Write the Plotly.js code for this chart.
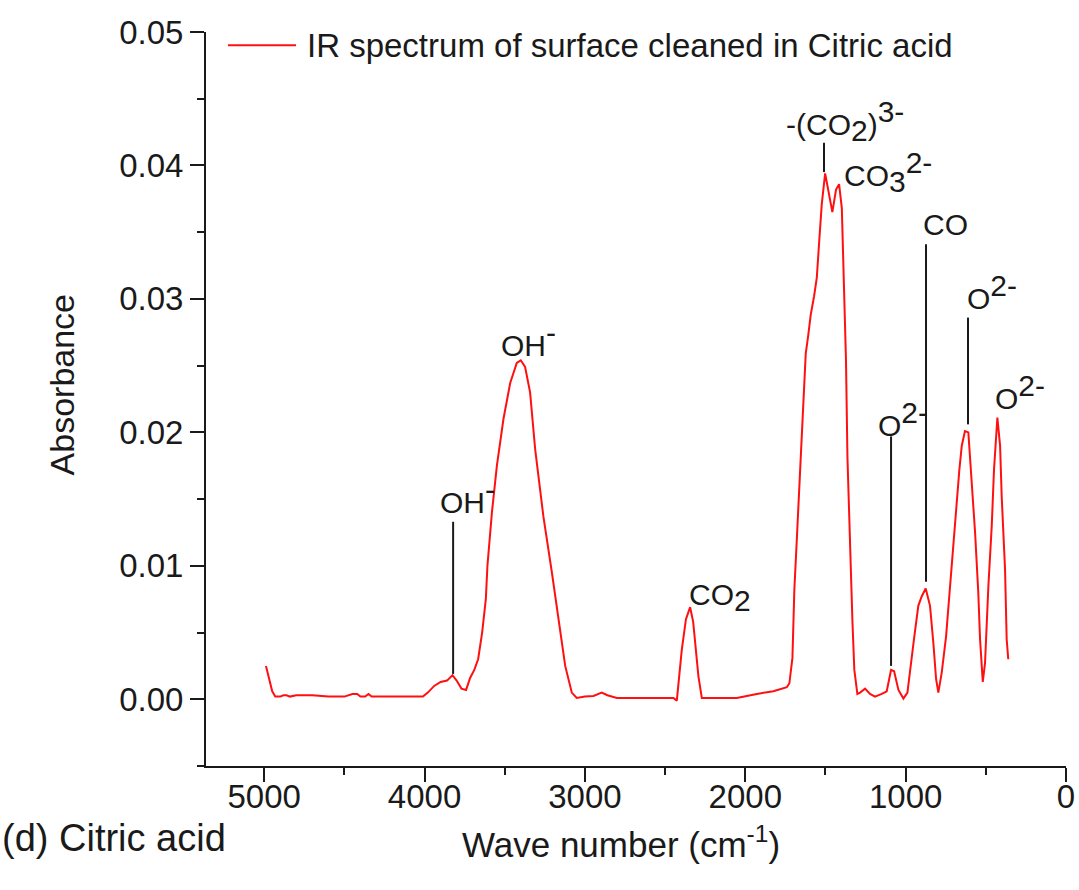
<!DOCTYPE html>
<html>
<head>
<meta charset="utf-8">
<script src="https://cdn.plot.ly/plotly-3.0.1.min.js"></script>
<style>html,body{margin:0;padding:0;background:#fff;}#chart{width:1079px;height:890px;}</style>
</head>
<body>
<div id="chart"></div>
<script>
// Wave numbers (cm^-1) and absorbance
const waveNumber = [4989,4970,4950,4931,4900,4880,4860,4840,4800,4700,4600,4500,4450,4420,4400,4370,4350,4330,4200,4100,4010,3980,3940,3900,3860,3826,3800,3770,3741,3716,3690,3666,3641,3618,3608,3580,3549,3508,3466,3425,3400,3373,3342,3310,3259,3206,3165,3123,3082,3051,3000,2947,2895,2860,2801,2600,2448,2427,2396,2370,2344,2325,2313,2292,2271,2150,2053,1928,1825,1741,1725,1706,1694,1679,1664,1648,1638,1623,1607,1592,1571,1554,1538,1523,1502,1482,1457,1434,1415,1398,1388,1372,1363,1347,1332,1320,1301,1284,1253,1222,1191,1149,1118,1091,1072,1045,1014,989,968,946,921,900,875,848,827,810,796,775,748,723,703,681,665,650,630,609,588,567,547,536,519,505,484,463,449,428,411,401,380,370,360];
const absorbance = [0.0025,0.0015,0.0006,0.0002,0.0002,0.0003,0.0003,0.0002,0.0003,0.0003,0.0002,0.0002,0.0004,0.0004,0.0002,0.0002,0.0004,0.0002,0.0002,0.0002,0.0002,0.0005,0.0010,0.0013,0.0014,0.0018,0.0014,0.0008,0.0007,0.0016,0.0022,0.0030,0.0050,0.0075,0.0100,0.0140,0.0175,0.0210,0.0237,0.0252,0.0254,0.0249,0.0230,0.0187,0.0137,0.0095,0.0062,0.0025,0.0005,0.0001,0.0002,0.00025,0.0005,0.0003,0.0001,0.0001,0.0001,-0.0001,0.0037,0.0060,0.0069,0.0058,0.0042,0.0017,0.0001,0.0001,0.0001,0.0004,0.0006,0.0009,0.0012,0.0031,0.0082,0.0119,0.0158,0.0193,0.0230,0.0259,0.0273,0.0288,0.0302,0.0316,0.0345,0.0371,0.0394,0.0382,0.0365,0.0382,0.0386,0.0368,0.0322,0.0254,0.0182,0.0114,0.0059,0.0022,0.0004,0.0005,0.0008,0.0004,0.0002,0.0004,0.0006,0.0022,0.0021,0.0007,0.00005,0.0005,0.0027,0.0047,0.0070,0.0077,0.0083,0.0070,0.0042,0.0015,0.0005,0.0020,0.0047,0.0085,0.0115,0.0152,0.0172,0.0190,0.0201,0.0200,0.0165,0.0125,0.0080,0.0045,0.0013,0.0027,0.0085,0.0130,0.0172,0.0211,0.0190,0.0152,0.0097,0.0045,0.0030];
const seriesName = "IR spectrum of surface cleaned in Citric acid";
const xTitle = "Wave number (cm<sup>-1</sup>)";
const yTitle = "Absorbance";
const panelLabel = "(d) Citric acid";

// Peak labels (sub/superscripts kept at full size as in the reference)
const S = "<span style='font-size:30px'>";
const E = "</span>";
const peakLabels = [
  "OH<sup>" + S + "-" + E + "</sup>",
  "OH<sup>" + S + "-" + E + "</sup>",
  "CO<sub>" + S + "2" + E + "</sub>",
  "-(CO<sub>" + S + "2" + E + "</sub>)<sup>" + S + "3-" + E + "</sup>",
  "CO<sub>" + S + "3" + E + "</sub><sup>" + S + "2-" + E + "</sup>",
  "CO",
  "O<sup>" + S + "2-" + E + "</sup>",
  "O<sup>" + S + "2-" + E + "</sup>",
  "O<sup>" + S + "2-" + E + "</sup>"
];
const peakLabelX = [3734,3354,2157,1378,1110,754,1016,461,287];
const peakLabelY = [0.0152,0.0270,0.0076,0.0433,0.0395,0.0356,0.0210,0.0305,0.0230];
// Pointer lines from label to peak
const pointerX = [3822,1509,873,1091,611];
const pointerLow = [0.0019,0.0395,0.0088,0.0025,0.0206];
const pointerHigh = [0.0133,0.0417,0.0341,0.0197,0.0286];

const FONT = "Arial, 'Liberation Sans', sans-serif";
const INK = "#1a1a1a";
const RED = "#ff1010";

const trace = {
  x: waveNumber, y: absorbance, type: "scatter", mode: "lines",
  name: seriesName, line: {color: RED, width: 2}, showlegend: false
};

const annotations = peakLabels.map((t, i) => ({
  x: peakLabelX[i], y: peakLabelY[i], xref: "x", yref: "y", text: t,
  showarrow: false, xanchor: "center", yanchor: "middle",
  font: {family: FONT, size: 30, color: INK}
}));
annotations.push({
  x: 0.115, y: 0.982, xref: "paper", yref: "paper", text: seriesName,
  showarrow: false, xanchor: "left", yanchor: "middle",
  font: {family: FONT, size: 33, color: INK}
});
annotations.push({
  x: -0.239, y: -0.098, xref: "paper", yref: "paper", text: panelLabel,
  showarrow: false, xanchor: "left", yanchor: "middle",
  font: {family: FONT, size: 38, color: INK}
});
annotations.push({
  x: 0.4826, y: -0.104, xref: "paper", yref: "paper", text: xTitle,
  showarrow: false, xanchor: "center", yanchor: "middle",
  font: {family: FONT, size: 35, color: INK}
});
annotations.push({
  x: -0.167, y: 0.519, xref: "paper", yref: "paper", text: yTitle, textangle: -90,
  showarrow: false, xanchor: "center", yanchor: "middle",
  font: {family: FONT, size: 34, color: INK}
});

const shapes = pointerX.map((px, i) => ({
  type: "line", xref: "x", yref: "y", x0: px, x1: px, y0: pointerLow[i], y1: pointerHigh[i],
  line: {color: INK, width: 2}
}));
shapes.push({
  type: "line", xref: "paper", yref: "paper", x0: 0.0256, x1: 0.1047, y0: 0.982, y1: 0.982,
  line: {color: RED, width: 2}
});

const layout = {
  width: 1079, height: 890,
  margin: {l: 206, r: 13, t: 32, b: 124},
  paper_bgcolor: "#fff", plot_bgcolor: "#fff",
  font: {family: FONT, color: INK},
  showlegend: false,
  xaxis: {
    range: [5363, 0], showgrid: false, zeroline: false,
    showline: true, linecolor: INK, linewidth: 2,
    ticks: "outside", ticklen: 14, tickwidth: 2, tickcolor: INK,
    dtick: 1000, tick0: 0, ticklabelstandoff: -14,
    minor: {dtick: 500, ticks: "outside", ticklen: 7, tickwidth: 2, tickcolor: INK, showgrid: false},
    tickfont: {family: FONT, size: 33, color: INK}
  },
  yaxis: {
    range: [-0.005, 0.05], showgrid: false, zeroline: false,
    showline: true, linecolor: INK, linewidth: 2,
    ticks: "outside", ticklen: 14, tickwidth: 2, tickcolor: INK,
    dtick: 0.01, tick0: 0, tickformat: ".2f",
    minor: {dtick: 0.005, ticks: "outside", ticklen: 7, tickwidth: 2, tickcolor: INK, showgrid: false},
    tickfont: {family: FONT, size: 33, color: INK}
  },
  annotations: annotations,
  shapes: shapes
};

Plotly.newPlot("chart", [trace], layout, {staticPlot: true, displayModeBar: false});
</script>
</body>
</html>
